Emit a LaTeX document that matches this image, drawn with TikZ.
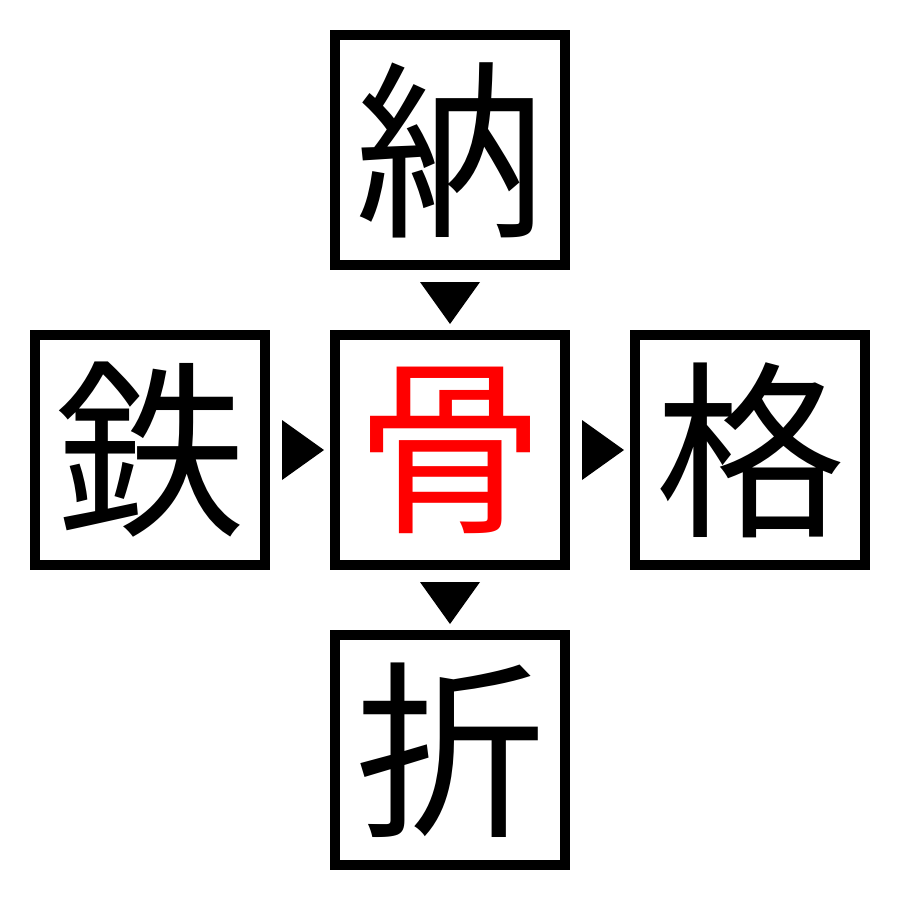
\documentclass[tikz,border=0pt]{standalone}
\usepackage{fontspec}
\newfontfamily\cjk{Noto Sans CJK JP}
\begin{document}
\begin{tikzpicture}[x=1pt,y=-1pt,
  kbox/.style={draw=black,line width=10pt,minimum size=230pt,inner sep=0pt,outer sep=0pt,
    font=\cjk\fontsize{190}{190}\selectfont},
  tri/.style={fill=black}]
\useasboundingbox (0,0) rectangle (900,900);
\node[kbox] (top) at (450,150) {納};
\node[kbox] (left) at (150,450) {鉄};
\node[kbox,text=red] (mid) at (450,450) {骨};
\node[kbox] (right) at (750,450) {格};
\node[kbox] (bot) at (450,750) {折};
% arrows (filled triangles between boxes)
\fill[tri] (420,282) -- (480,282) -- (450,324) -- cycle;
\fill[tri] (420,582) -- (480,582) -- (450,624) -- cycle;
\fill[tri] (282,420) -- (282,480) -- (324,450) -- cycle;
\fill[tri] (582,420) -- (582,480) -- (624,450) -- cycle;
\end{tikzpicture}
\end{document}
